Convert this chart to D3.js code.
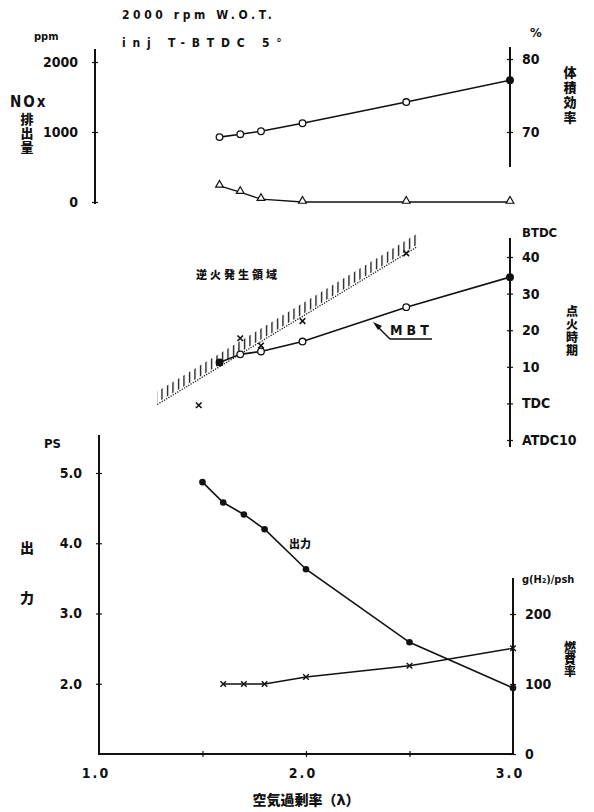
<!DOCTYPE html>
<html>
<head>
<meta charset="utf-8">
<script src="https://cdn.jsdelivr.net/npm/d3@7"></script>
<style>
  body { margin: 0; background: #fff; }
  svg text { font-family: 'DejaVu Sans Condensed', 'Liberation Sans Narrow', 'DejaVu Sans', sans-serif; font-weight: bold; fill: #111; }
  svg text.jp { font-family: 'Noto Sans CJK JP', sans-serif; font-weight: 900; }
  svg text.vert { writing-mode: vertical-rl; }
</style>
</head>
<body>
<div id="chart"></div>
<script>
// ---- data ----
// top panel: volumetric efficiency (%) and NOx (ppm)
var topLambda = [1.6, 1.7, 1.8, 2.0, 2.5, 3.0];
var volEff = [69.3, 69.7, 70.1, 71.2, 74.1, 77.1];
var noxPpm = [230, 140, 40, 0, 0, 0];

// middle panel: ignition timing (deg BTDC)
var mbtLambda = [1.6, 1.7, 1.8, 2.0, 2.5, 3.0];
var mbtTiming = [11.2, 13.4, 14.2, 16.9, 26.3, 34.5];
var backfireLambda = [1.5, 1.7, 1.8, 2.0, 2.5];
var backfireTiming = [-0.5, 17.8, 15.8, 22.5, 41];
var limitLambda = [1.30, 2.55];
var limitTiming = [-0.3, 42.7];

// bottom panel: power (PS) and fuel consumption g(H2)/psh
var powerLambda = [1.5, 1.6, 1.7, 1.8, 2.0, 2.5, 3.0];
var powerPS = [4.87, 4.58, 4.41, 4.20, 3.63, 2.59, 1.94];
var fuelLambda = [1.6, 1.7, 1.8, 2.0, 2.5, 3.0];
var fuelRate = [100, 100, 100, 110, 126, 151];

// tick values / labels
var noxTicks = [0, 1000, 2000];
var effTicks = [70, 80];
var ignTicks = [-10, 0, 10, 20, 30, 40];
var ignLabels = ['ATDC10', 'TDC', '10', '20', '30', '40'];
var psTicks = [2, 3, 4, 5];
var fuelTicks = [0, 100, 200];
var xTicks = [1.5, 2.0, 2.5];
var xLabels = [1.0, 2.0, 3.0];

var W = 594, H = 812;
var svg = d3.select('#chart').append('svg')
    .attr('width', W).attr('height', H);

// scales
var xTop = d3.scaleLinear().domain([1, 3]).range([95, 510]);
var xBot = d3.scaleLinear().domain([1, 3]).range([99, 513]);
var yNox = d3.scaleLinear().domain([0, 2000]).range([202, 62]);
var yEff = d3.scaleLinear().domain([70, 80]).range([132, 59]);
var yIgn = d3.scaleLinear().domain([-10, 40]).range([440, 257]);
var yPS = d3.scaleLinear().domain([1, 5]).range([754, 473]);
var yFuel = d3.scaleLinear().domain([0, 200]).range([754, 614]);

var ink = '#111';

// axis helper: cross-shaped ticks, own axis line
function drawAxis(axisFn, pos, isY, lo, hi, pad, fmt, fontSize) {
  var g = svg.append('g')
      .attr('transform', isY ? 'translate(' + pos + ',0)' : 'translate(0,' + pos + ')');
  g.call(axisFn.tickSize(3).tickPadding(pad).tickFormat(fmt));
  g.select('.domain').remove();
  if (isY) g.selectAll('.tick line').attr('x1', -3).attr('x2', 3);
  else g.selectAll('.tick line').attr('y1', -3).attr('y2', 3);
  g.selectAll('.tick line').attr('stroke', ink).attr('stroke-width', 1.2);
  g.selectAll('.tick text').attr('font-size', fontSize).attr('fill', ink)
    .attr('font-family', null);
  g.append('line')
    .attr(isY ? 'y1' : 'x1', lo).attr(isY ? 'y2' : 'x2', hi)
    .attr('stroke', ink).attr('stroke-width', 2);
  return g;
}

// ---- top panel ----
drawAxis(d3.axisLeft(yNox).tickValues(noxTicks), xTop(1), true, 49, 204, 14, d3.format('d'), 14);
drawAxis(d3.axisRight(yEff).tickValues(effTicks), xTop(3), true, 47, 167, 9, d3.format('d'), 14);

var lineEff = d3.line().x(function (d, i) { return xTop(topLambda[i]); }).y(function (d) { return yEff(d); });
var lineNox = d3.line().x(function (d, i) { return xTop(topLambda[i]); }).y(function (d) { return yNox(d); });

svg.append('path').attr('d', lineEff(volEff)).attr('fill', 'none').attr('stroke', ink).attr('stroke-width', 1.6);
svg.append('path').attr('d', lineNox(noxPpm)).attr('fill', 'none').attr('stroke', ink).attr('stroke-width', 1.3);

svg.selectAll('.effpt').data(volEff).enter().append('circle')
  .attr('cx', function (d, i) { return xTop(topLambda[i]); })
  .attr('cy', function (d) { return yEff(d); })
  .attr('r', 3.3)
  .attr('fill', function (d, i) { return topLambda[i] === 3.0 ? ink : '#fff'; })
  .attr('stroke', ink).attr('stroke-width', 1.3);

var tri = d3.symbol().type(d3.symbolTriangle).size(26);
svg.selectAll('.noxpt').data(noxPpm).enter().append('path')
  .attr('d', tri)
  .attr('transform', function (d, i) { return 'translate(' + xTop(topLambda[i]) + ',' + (yNox(d) - 1) + ')'; })
  .attr('fill', '#fff').attr('stroke', ink).attr('stroke-width', 1.2);

// ---- middle panel ----
drawAxis(d3.axisRight(yIgn).tickValues(ignTicks), xTop(3), true, 238, 447, 9,
  function (d, i) { return ignLabels[i]; }, 14);

// backfire region: dotted limit line with vertical hatching above
var defs = svg.append('defs');
defs.append('pattern').attr('id', 'hatch').attr('patternUnits', 'userSpaceOnUse')
  .attr('width', 5.5).attr('height', 12)
  .append('line').attr('x1', 2.5).attr('y1', 0).attr('x2', 2.5).attr('y2', 12)
  .attr('stroke', ink).attr('stroke-width', 1.3);

var limitPts = limitLambda.map(function (l, i) { return [xTop(l), yIgn(limitTiming[i])]; });
var band = [
  [limitPts[0][0], limitPts[0][1] - 2],
  [limitPts[1][0], limitPts[1][1] - 2],
  [limitPts[1][0], limitPts[1][1] - 13],
  [limitPts[0][0], limitPts[0][1] - 13]
];
svg.append('polygon').attr('points', band.map(function (p) { return p.join(','); }).join(' '))
  .attr('fill', 'url(#hatch)');
svg.append('line')
  .attr('x1', limitPts[0][0]).attr('y1', limitPts[0][1])
  .attr('x2', limitPts[1][0]).attr('y2', limitPts[1][1])
  .attr('stroke', ink).attr('stroke-width', 1.3).attr('stroke-dasharray', '1.2,1.4');

var lineMbt = d3.line().x(function (d, i) { return xTop(mbtLambda[i]); }).y(function (d) { return yIgn(d); });
svg.append('path').attr('d', lineMbt(mbtTiming)).attr('fill', 'none').attr('stroke', ink).attr('stroke-width', 1.6);
svg.selectAll('.mbtpt').data(mbtTiming).enter().append('circle')
  .attr('cx', function (d, i) { return xTop(mbtLambda[i]); })
  .attr('cy', function (d) { return yIgn(d); })
  .attr('r', 3.3)
  .attr('fill', function (d, i) { return (mbtLambda[i] === 3.0 || mbtLambda[i] === 1.6) ? ink : '#fff'; })
  .attr('stroke', ink).attr('stroke-width', 1.3);

var cross = d3.symbol().type(d3.symbolX).size(22);
svg.selectAll('.bfpt').data(backfireTiming).enter().append('path')
  .attr('d', cross)
  .attr('transform', function (d, i) { return 'translate(' + xTop(backfireLambda[i]) + ',' + yIgn(d) + ')'; })
  .attr('fill', 'none').attr('stroke', ink).attr('stroke-width', 1.6);

// MBT label with arrow
svg.append('text').attr('x', 390).attr('y', 335).attr('font-size', 14)
  .attr('font-family', "'Liberation Serif', serif").attr('letter-spacing', 4).text('MBT');
svg.append('path').attr('d', 'M432,339 L390,339 L376,325')
  .attr('fill', 'none').attr('stroke', ink).attr('stroke-width', 1.4);
svg.append('path').attr('d', 'M373,322 L382,326 L378,330 Z').attr('fill', ink);

svg.append('text').attr('class', 'jp').attr('x', 196).attr('y', 279)
  .attr('font-size', 11).attr('letter-spacing', 3).text('逆火発生領域');

// ---- bottom panel ----
drawAxis(d3.axisLeft(yPS).tickValues(psTicks), xBot(1), true, 435, 755, 14, d3.format('.1f'), 14);
drawAxis(d3.axisRight(yFuel).tickValues(fuelTicks), xBot(3), true, 578, 755, 9, d3.format('d'), 14);
drawAxis(d3.axisBottom(xBot).tickValues(xTicks), yPS(1), false, xBot(1), xBot(3), 0, function () { return ''; }, 14);

svg.selectAll('.xlab').data(xLabels).enter().append('text')
  .attr('x', function (d) { return xBot(d) - 3; })
  .attr('y', 778).attr('text-anchor', 'middle').attr('font-size', 14)
  .attr('letter-spacing', 2)
  .text(function (d) { return d.toFixed(1); });

var linePS = d3.line().x(function (d, i) { return xBot(powerLambda[i]); }).y(function (d) { return yPS(d); });
var lineFuel = d3.line().x(function (d, i) { return xBot(fuelLambda[i]); }).y(function (d) { return yFuel(d); });
svg.append('path').attr('d', linePS(powerPS)).attr('fill', 'none').attr('stroke', ink).attr('stroke-width', 1.6);
svg.append('path').attr('d', lineFuel(fuelRate)).attr('fill', 'none').attr('stroke', ink).attr('stroke-width', 1.4);

svg.selectAll('.pspt').data(powerPS).enter().append('circle')
  .attr('cx', function (d, i) { return xBot(powerLambda[i]); })
  .attr('cy', function (d) { return yPS(d); })
  .attr('r', 3.3).attr('fill', ink);

svg.selectAll('.fuelpt').data(fuelRate).enter().append('path')
  .attr('d', cross)
  .attr('transform', function (d, i) { return 'translate(' + xBot(fuelLambda[i]) + ',' + yFuel(d) + ')'; })
  .attr('fill', 'none').attr('stroke', ink).attr('stroke-width', 1.4);

// ---- titles and axis names ----
svg.append('text').attr('x', 122).attr('y', 19).attr('font-size', 12).attr('letter-spacing', 3.6)
  .attr('font-family', "'DejaVu Sans', sans-serif").text('2000 rpm  W.O.T.');
svg.append('text').attr('x', 122).attr('y', 47).attr('font-size', 12).attr('letter-spacing', 6.8)
  .attr('font-family', "'DejaVu Sans', sans-serif").text('inj T-BTDC  5°');

svg.append('text').attr('x', 34).attr('y', 40).attr('font-size', 11).text('ppm');
svg.append('text').attr('x', 10).attr('y', 107).attr('font-size', 15)
  .attr('font-family', "'Liberation Serif', serif").attr('letter-spacing', 2).text('NOx');

// vertical Japanese labels as single text runs
function vText(str, x, y0, size, spacing) {
  svg.append('text').attr('class', 'jp vert')
    .attr('x', x).attr('y', y0)
    .attr('font-size', size).attr('letter-spacing', spacing)
    .text(str);
}
vText('排出量', 27, 113, 13, 1);
vText('体積効率', 570, 66, 13, 2);
vText('点火時期', 572, 305, 12, 1);
vText('燃費率', 570, 641, 12, 0);

svg.append('text').attr('x', 530).attr('y', 37).attr('font-size', 13).text('%');
svg.append('text').attr('x', 522).attr('y', 237).attr('font-size', 13).text('BTDC');
svg.append('text').attr('x', 44).attr('y', 448).attr('font-size', 13).text('PS');
svg.append('text').attr('x', 522).attr('y', 583).attr('font-size', 11).text('g(H₂)/psh');

svg.append('text').attr('class', 'jp').attr('x', 27).attr('y', 553)
  .attr('text-anchor', 'middle').attr('font-size', 14).text('出');
svg.append('text').attr('class', 'jp').attr('x', 27).attr('y', 603)
  .attr('text-anchor', 'middle').attr('font-size', 14).text('力');
svg.append('text').attr('class', 'jp').attr('x', 289).attr('y', 548).attr('font-size', 11)
  .text('出力');

svg.append('text').attr('class', 'jp').attr('x', 306).attr('y', 805)
  .attr('text-anchor', 'middle').attr('font-size', 14).text('空気過剰率（λ）');
</script>
</body>
</html>
